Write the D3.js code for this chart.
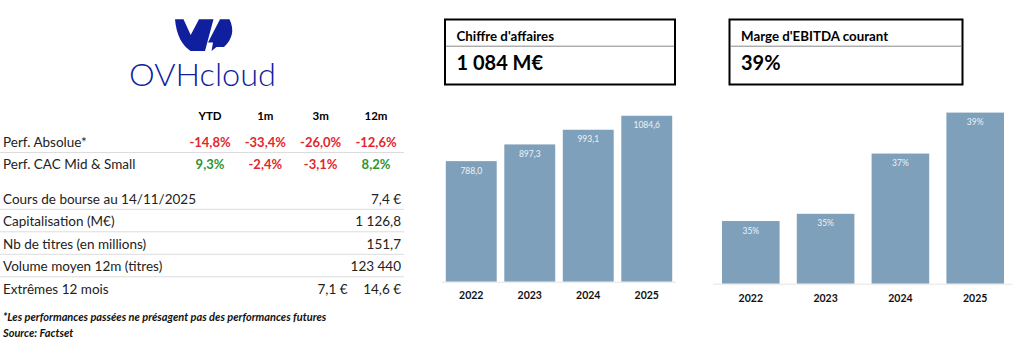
<!DOCTYPE html>
<html>
<head>
<meta charset="utf-8">
<script src="https://cdn.jsdelivr.net/npm/d3@7"></script>
<style>
  body { margin: 0; background: #fff; }
  text { font-family: Lato, "Open Sans", sans-serif; }
</style>
</head>
<body>
<div id="chart-area"></div>
<script>
const WIDTH = 1024
const HEIGHT = 339

// Data
const years = ["2022", "2023", "2024", "2025"]
const revenue = [788.0, 897.3, 993.1, 1084.6]
const ebitdaMargin = [34.6, 34.9, 37.4, 39.1]

const perfHeaders = ["YTD", "1m", "3m", "12m"]
const perfRows = ["Perf. Absolue*", "Perf. CAC Mid & Small"]
const perfAbsolue = [-14.8, -33.4, -26.0, -12.6]
const perfCAC = [9.3, -2.4, -3.1, 8.2]

const infoLabels = ["Cours de bourse au 14/11/2025", "Capitalisation (M€)", "Nb de titres (en millions)", "Volume moyen 12m (titres)", "Extrêmes 12 mois"]
const infoValues = ["7,4 €", "1 126,8", "151,7", "123 440", "14,6 €"]
const extremeLow = "7,1 €"

const kpiTitles = ["Chiffre d'affaires", "Marge d'EBITDA courant"]
const kpiValues = ["1 084 M€", "39%"]

const notes = ["*Les performances passées ne présagent pas des performances futures", "Source: Factset"]

const BAR_COLOR = "#7fa0bb"
const RED = "#e3262d"
const GREEN = "#2f9432"
const LOGO_BLUE = "#0f1f9e"

const fr = d3.formatLocale({ decimal: ",", thousands: "\u00a0", grouping: [3], currency: ["", "\u00a0€"], minus: "-" })
const f1 = fr.format(".1f")

const svg = d3.select("#chart-area").append("svg")
  .attr("width", WIDTH)
  .attr("height", HEIGHT)

// ---- Logo ----
const logo = svg.append("g")
logo.append("path")
  .attr("d", "M175,19.3 L183.5,19.3 L190.7,35 L199,19.3 L213.5,19.3 L205,51 L190.5,51 Q177,42 175,19.3 Z")
  .attr("fill", LOGO_BLUE)
logo.append("path")
  .attr("d", "M220,19.3 L229.5,19.3 Q237,35 224,47 L216.5,47 L211.5,51 L213,42.5 L208,42.5 Z")
  .attr("fill", LOGO_BLUE)
logo.append("text")
  .attr("x", 129)
  .attr("y", 86)
  .attr("textLength", 147)
  .attr("lengthAdjust", "spacingAndGlyphs")
  .style("font-size", "31px")
  .style("font-weight", 300)
  .attr("fill", LOGO_BLUE)
  .text("OVHcloud")

// ---- Perf table ----
const colX = d3.scalePoint().domain(perfHeaders).range([210, 376])

svg.selectAll(".hdr")
  .data(perfHeaders)
  .join("text")
  .attr("x", d => colX(d))
  .attr("y", 120)
  .attr("text-anchor", "middle")
  .style("font-size", "11.5px")
  .style("font-weight", "bold")
  .text(d => d)

const perfData = [perfAbsolue, perfCAC]
const perfY = [147, 169]

perfRows.forEach((label, i) => {
  svg.append("text")
    .attr("x", 3)
    .attr("y", perfY[i])
    .style("font-size", "13.5px")
    .attr("fill", "#222")
    .text(label)

  svg.selectAll(".perf" + i)
    .data(perfData[i])
    .join("text")
    .attr("x", (d, j) => colX(perfHeaders[j]))
    .attr("y", perfY[i])
    .attr("text-anchor", "middle")
    .style("font-size", "13px")
    .style("font-weight", "bold")
    .attr("fill", d => d < 0 ? RED : GREEN)
    .text(d => f1(d) + "%")
})

svg.append("line")
  .attr("x1", 0).attr("x2", 404)
  .attr("y1", 152.5).attr("y2", 152.5)
  .attr("stroke", "#dcdcdc")

const infoY = d3.scaleLinear().domain([0, 1]).range([203.5, 226])

infoLabels.forEach((label, i) => {
  svg.append("text")
    .attr("x", 3)
    .attr("y", infoY(i))
    .style("font-size", "13.5px")
    .attr("fill", "#222")
    .text(label)
  svg.append("text")
    .attr("x", 401)
    .attr("y", infoY(i))
    .attr("text-anchor", "end")
    .style("font-size", "13.5px")
    .attr("fill", "#222")
    .text(infoValues[i])
  if (i < infoLabels.length - 1) {
    svg.append("line")
      .attr("x1", 0).attr("x2", 404)
      .attr("y1", infoY(i) + 5.8).attr("y2", infoY(i) + 5.8)
      .attr("stroke", "#dcdcdc")
  }
})

svg.append("text")
  .attr("x", 347.5)
  .attr("y", infoY(infoLabels.length - 1))
  .attr("text-anchor", "end")
  .style("font-size", "13.5px")
  .attr("fill", "#222")
  .text(extremeLow)

notes.forEach((n, i) => {
  svg.append("text")
    .attr("x", 3)
    .attr("y", 320.5 + i * 16.5)
    .style("font-size", "11px")
    .style("font-weight", "bold")
    .style("font-style", "italic")
    .attr("fill", "#111")
    .text(n)
})

// ---- KPI boxes ----
const boxes = [
  { x: 445, w: 230 },
  { x: 729.5, w: 233 }
]
boxes.forEach((b, i) => {
  const g = svg.append("g").attr("transform", `translate(${b.x},19.5)`)
  g.append("rect")
    .attr("width", b.w).attr("height", 65)
    .attr("fill", "none")
    .attr("stroke", "#000")
    .attr("stroke-width", 2)
  g.append("line")
    .attr("x1", 1).attr("x2", b.w - 1)
    .attr("y1", 26.7).attr("y2", 26.7)
    .attr("stroke", "#888")
    .attr("stroke-width", 1)
  g.append("text")
    .attr("x", 11.5).attr("y", 21.5)
    .style("font-size", "13.3px")
    .style("font-weight", "bold")
    .text(kpiTitles[i])
  g.append("text")
    .attr("x", 11.5).attr("y", 50.5)
    .style("font-size", "20px")
    .style("font-weight", "bold")
    .text(kpiValues[i])
})

// ---- Bar charts ----
function barChart(values, opts) {
  const x = d3.scaleBand()
    .domain(years)
    .range(opts.xRange)
    .paddingInner(opts.pad)
    .paddingOuter(opts.pad / 2)

  const y = d3.scaleLinear()
    .domain(opts.yDomain)
    .range([opts.base, opts.base - opts.h])

  const g = svg.append("g")

  g.selectAll("rect")
    .data(values)
    .join("rect")
    .attr("x", (d, i) => x(years[i]))
    .attr("y", d => y(d))
    .attr("width", x.bandwidth())
    .attr("height", d => opts.base - y(d))
    .attr("fill", BAR_COLOR)

  g.selectAll(".val")
    .data(values)
    .join("text")
    .attr("x", (d, i) => x(years[i]) + x.bandwidth() / 2)
    .attr("y", d => y(d) + 12.5)
    .attr("text-anchor", "middle")
    .style("font-size", "8.5px")
    .attr("fill", "#eef2f6")
    .text(opts.fmt)

  g.append("line")
    .attr("x1", opts.xRange[0]).attr("x2", opts.xRange[1])
    .attr("y1", opts.base + 0.5).attr("y2", opts.base + 0.5)
    .attr("stroke", "#e4e4e4")

  const axis = g.append("g")
    .attr("transform", `translate(0,${opts.base})`)
    .call(d3.axisBottom(x).tickSize(0).tickPadding(opts.labelPad))
  axis.select(".domain").remove()
  axis.selectAll("text")
    .style("font-family", "Lato, 'Open Sans', sans-serif")
    .style("font-size", "10.5px")
    .style("font-weight", "bold")
    .attr("fill", "#111")
}

barChart(revenue, {
  xRange: [442, 676],
  pad: 0.13,
  yDomain: [0, 1200],
  base: 281.7,
  h: 183.6,
  labelPad: 10,
  fmt: d => f1(d)
})

barChart(ebitdaMargin, {
  xRange: [713.4, 1012.6],
  pad: 0.23,
  yDomain: [32, 40],
  base: 283.7,
  h: 192.8,
  labelPad: 10.5,
  fmt: d => d3.format(".0f")(d) + "%"
})
</script>
</body>
</html>
